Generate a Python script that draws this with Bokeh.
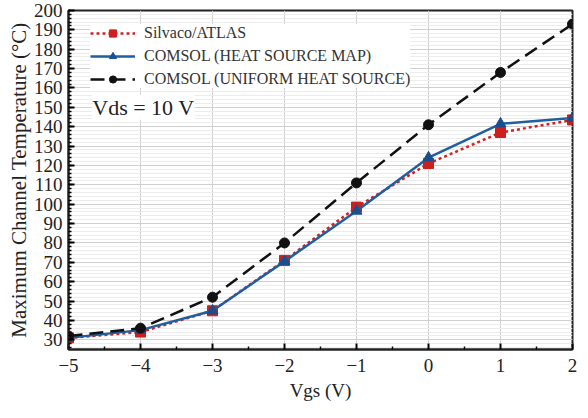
from bokeh.plotting import figure
from bokeh.models import (Range1d, FixedTicker, Legend, LegendItem, Label)
from bokeh.embed import file_html
from bokeh.resources import INLINE

vgs = [-5, -4, -3, -2, -1, 0, 1, 2]
silvaco = [31, 34, 45, 71, 98.5, 121, 137, 143.5]
comsol_map = [31, 35, 45, 70.5, 96.5, 124, 141.5, 144.5]
comsol_uniform = [32, 36, 52, 80, 111, 141, 168, 193]

x_ticks = [-5, -4, -3, -2, -1, 0, 1, 2]
x_labels = {-5: "\u22125", -4: "\u22124", -3: "\u22123", -2: "\u22122", -1: "\u22121", 0: "0", 1: "1", 2: "2"}
y_ticks = list(range(30, 201, 10))

FONT = "Liberation Serif"

p = figure(width=588, height=418, output_backend="svg", toolbar_location=None,
           x_range=Range1d(-5, 2), y_range=Range1d(25, 200),
           min_border_left=68, min_border_right=16, min_border_top=10, min_border_bottom=69)

p.outline_line_color = "#222222"
p.outline_line_width = 2

for ax in (p.xaxis[0], p.yaxis[0]):
    ax.axis_line_color = "#222222"
    ax.axis_line_width = 2
    ax.major_tick_in = 6
    ax.major_tick_out = 0
    ax.minor_tick_in = 3
    ax.minor_tick_out = 0
    ax.major_tick_line_width = 2
    ax.minor_tick_line_width = 1.5
    ax.major_label_text_font = FONT
    ax.major_label_text_color = "#222222"
    ax.axis_label_text_font = FONT
    ax.axis_label_text_font_style = "normal"
    ax.axis_label_text_color = "#222222"

p.xaxis[0].ticker = FixedTicker(ticks=x_ticks, minor_ticks=[v + 0.5 for v in x_ticks[:-1]])
p.xaxis[0].major_label_overrides = x_labels
p.xaxis[0].axis_label = "Vgs (V)"
p.xaxis[0].major_label_text_font_size = "19px"
p.xaxis[0].axis_label_text_font_size = "19px"
p.xaxis[0].major_label_standoff = 9
p.xaxis[0].axis_label_standoff = 5

p.yaxis[0].ticker = FixedTicker(ticks=y_ticks, minor_ticks=list(range(26, 201, 2)))
p.yaxis[0].axis_label = "Maximum Channel Temperature (\u00b0C)"
p.yaxis[0].major_label_text_font_size = "19px"
p.yaxis[0].axis_label_text_font_size = "21px"
p.yaxis[0].major_label_standoff = 6
p.yaxis[0].axis_label_standoff = 0

p.xgrid[0].grid_line_color = "#d0d0d0"
p.ygrid[0].grid_line_color = "#d0d0d0"
p.ygrid[0].minor_grid_line_color = "#ececec"
p.xgrid[0].minor_grid_line_color = None

r_red_line = p.line(vgs, silvaco, line_color="#d42020", line_width=2.5, line_dash="3 3")
r_red_pts = p.scatter(vgs, silvaco, marker="square", size=10, fill_color="#cc1f1f", line_color="#cc1f1f")
r_blue_line = p.line(vgs, comsol_map, line_color="#1f5fa0", line_width=2.5)
r_blue_pts = p.scatter(vgs, comsol_map, marker="triangle", size=11, fill_color="#1a4f8f", line_color="#1a4f8f")
r_blk_line = p.line(vgs, comsol_uniform, line_color="#111111", line_width=2.5, line_dash="14 7")
r_blk_pts = p.scatter(vgs, comsol_uniform, marker="circle", size=10, fill_color="#111111", line_color="#111111")

legend = Legend(items=[
    LegendItem(label="Silvaco/ATLAS", renderers=[r_red_line, r_red_pts]),
    LegendItem(label="COMSOL (HEAT SOURCE MAP)", renderers=[r_blue_line, r_blue_pts]),
    LegendItem(label="COMSOL (UNIFORM HEAT SOURCE)", renderers=[r_blk_line, r_blk_pts]),
], location=(22, 261))
legend.label_text_font = FONT
legend.label_text_font_size = "16px"
legend.label_text_color = "#333333"
legend.glyph_width = 45
legend.glyph_height = 18
legend.spacing = 5
legend.padding = 4
legend.margin = 0
legend.label_standoff = 9
legend.border_line_color = None
legend.background_fill_color = "white"
legend.background_fill_alpha = 1.0
p.add_layout(legend)

p.add_layout(Label(x=-4.67, y=150, text="Vds = 10 V", text_font=FONT, text_font_size="22px",
                   text_color="#222222", background_fill_color="white", background_fill_alpha=1.0,
                   text_baseline="middle"))

open("out.html", "w").write(file_html(p, INLINE))
